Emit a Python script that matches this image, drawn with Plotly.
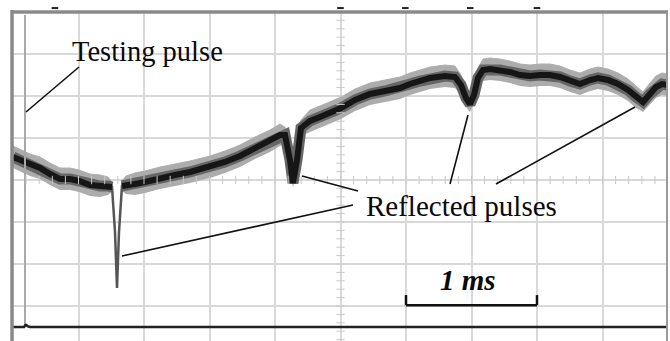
import numpy as np
import plotly.graph_objects as go

# ---- data (screen divisions: x 0..10, y 0..8) ----
px_x = [13, 20, 30, 40, 50, 60, 70, 79, 90, 100, 108, 112, 115, 117, 119, 122, 126, 135, 145,
        160, 175, 190, 210, 225, 240, 255, 270, 280, 285, 290, 293, 297, 301, 310, 320, 330,
        341, 355, 370, 385, 400, 410, 420, 430, 445, 455, 461, 466, 470, 474, 478, 483, 490,
        500, 510, 520, 530, 540, 550, 560, 570, 580, 590, 598, 608, 618, 628, 636, 643, 650,
        656, 662, 668]
px_y = [157, 160, 165, 168, 174, 179, 179, 181, 185, 186, 186, 187, 232, 288, 232, 186, 185, 184, 182,
        178, 175, 172, 167, 162, 156, 148, 141, 135, 135, 160, 183, 160, 128, 121, 117, 113,
        108, 100, 94, 91, 88, 84, 81, 78, 76, 77, 85, 98, 104, 95, 78, 70, 69,
        70, 72, 75, 76, 75, 75, 77, 81, 84, 80, 78, 80, 84, 90, 97, 102, 94,
        87, 84, 85]
px_w = [11, 11, 11, 11, 11, 11, 11, 11, 11, 11, 9, 5, 3, 2, 3, 5, 9, 11, 11,
        11, 11, 11, 11, 11, 11, 11, 11, 11, 8, 6, 5, 6, 8, 11, 11, 11,
        11, 11, 11, 11, 11, 11, 11, 11, 11, 11, 10, 9, 8, 9, 10, 11, 11,
        11, 11, 11, 11, 11, 11, 11, 11, 11, 11, 11, 11, 11, 11, 11, 10, 11,
        11, 11, 11]

PXD_X, PXD_Y, X0, Y0 = 65.5, 42.0, 13.0, 348.0
sig_x = [(v - X0) / PXD_X for v in px_x]
sig_y = [(Y0 - v) / PXD_Y for v in px_y]
sig_w = [v / PXD_Y for v in px_w]
sig_hi = [a + b for a, b in zip(sig_y, sig_w)]
sig_lo = [a - b for a, b in zip(sig_y, sig_w)]
# thick dark core only where the trace is slow (not on the fast first echo)
core_y = [y if w >= 5 else None for y, w in zip(sig_y, px_w)]

# channel 2 (testing pulse channel)
ch2_x = [0.0, 0.17, 0.19, 0.198, 0.205, 0.22, 0.26, 10.0]
ch2_y = [0.50, 0.50, 0.55, 0.56, 0.55, 0.52, 0.50, 0.50]
pulse_x = [0.183, 0.183]
pulse_y = [0.52, 7.93]

fig = go.Figure()

# noise band
fig.add_trace(go.Scatter(x=sig_x, y=sig_lo, mode="lines", line=dict(width=0, color="#a6a6a6"),
                         hoverinfo="skip", showlegend=False))
fig.add_trace(go.Scatter(x=sig_x, y=sig_hi, mode="lines", line=dict(width=1, color="#b0b0b0"),
                         fill="tonexty", fillcolor="#acacac", hoverinfo="skip", showlegend=False))
# thin line through everything (fast spike appears grey)
fig.add_trace(go.Scatter(x=sig_x, y=sig_y, mode="lines", line=dict(width=2.5, color="#555555"),
                         hoverinfo="skip", showlegend=False))
# mid / core
fig.add_trace(go.Scatter(x=sig_x, y=core_y, mode="lines", line=dict(width=11, color="#666666"),
                         connectgaps=False, hoverinfo="skip", showlegend=False))
fig.add_trace(go.Scatter(x=sig_x, y=core_y, mode="lines", line=dict(width=6, color="#161616"),
                         connectgaps=False, hoverinfo="skip", showlegend=False))

# testing pulse vertical line and channel 2
fig.add_trace(go.Scatter(x=pulse_x, y=pulse_y, mode="lines", line=dict(width=2, color="#a8a8a8"),
                         hoverinfo="skip", showlegend=False))
fig.add_trace(go.Scatter(x=ch2_x, y=ch2_y, mode="lines", line=dict(width=2.5, color="#222222"),
                         hoverinfo="skip", showlegend=False))

# center-line minor ticks
tk = np.arange(0, 10.01, 0.2)
fig.add_trace(go.Scatter(x=tk, y=[4] * len(tk), mode="markers",
                         marker=dict(symbol="line-ns", size=6, line=dict(width=1, color="#c8c8c8")),
                         hoverinfo="skip", showlegend=False))
tky = np.arange(0, 8.01, 0.2)
fig.add_trace(go.Scatter(x=[5] * len(tky), y=tky, mode="markers",
                         marker=dict(symbol="line-ew", size=6, line=dict(width=1, color="#c8c8c8")),
                         hoverinfo="skip", showlegend=False))

shapes = []
# leader lines
leaders = [
    ((79, 67), (26, 112)),
    ((353, 205), (122, 256)),
    ((302, 176), (358, 191)),
    ((450, 184), (468, 115)),
    ((496, 184), (635, 107)),
]
for (a, b) in leaders:
    shapes.append(dict(type="line", xref="x", yref="y",
                       x0=(a[0] - X0) / PXD_X, y0=(Y0 - a[1]) / PXD_Y,
                       x1=(b[0] - X0) / PXD_X, y1=(Y0 - b[1]) / PXD_Y,
                       line=dict(color="#111111", width=1.6)))
# 1 ms scale bar
bx0, bx1, by, bt = 6.0, 8.0, 1.02, 1.26
for s in [(bx0, by, bx1, by), (bx0, by, bx0, bt), (bx1, by, bx1, bt)]:
    shapes.append(dict(type="line", xref="x", yref="y", x0=s[0], y0=s[1], x1=s[2], y1=s[3],
                       line=dict(color="#111111", width=2.5)))
# screen borders
shapes.append(dict(type="line", xref="paper", yref="paper", x0=-0.0015, y0=0, x1=-0.0015, y1=1.006,
                   line=dict(color="#8a8a8a", width=3.5)))
shapes.append(dict(type="line", xref="paper", yref="paper", x0=-0.003, y0=1.0, x1=1.0, y1=1.0,
                   line=dict(color="#8a8a8a", width=3.5)))
shapes.append(dict(type="line", xref="paper", yref="paper", x0=0.9985, y0=0, x1=0.9985, y1=1.0,
                   line=dict(color="#9a9a9a", width=2)))
# small marker stubs above top border
for xm in [0.064, 0.5, 0.599, 0.698, 0.8]:
    shapes.append(dict(type="line", xref="paper", yref="paper", x0=xm - 0.005, y0=1.012, x1=xm + 0.005,
                       y1=1.012, line=dict(color="#222222", width=2)))

fig.update_layout(shapes=shapes)

fig.add_annotation(x=2.06, y=7.05, xref="x", yref="y", text="Testing pulse", showarrow=False,
                   font=dict(family="Liberation Serif", size=28.5, color="#0a0a0a"))
fig.add_annotation(x=6.84, y=3.38, xref="x", yref="y", text="Reflected pulses", showarrow=False,
                   font=dict(family="Liberation Serif", size=29, color="#0a0a0a"))
fig.add_annotation(x=6.95, y=1.62, xref="x", yref="y", text="<b><i>1 ms</i></b>", showarrow=False,
                   font=dict(family="Liberation Serif", size=29, color="#0a0a0a"))

fig.update_layout(
    width=670, height=341,
    margin=dict(l=13, r=2, t=12, b=0),
    paper_bgcolor="white", plot_bgcolor="white",
    xaxis=dict(range=[0, 10], dtick=1, tick0=0, showgrid=True, gridcolor="#d9d9d9", gridwidth=2,
               zeroline=False, showticklabels=False, ticks="", showline=False, fixedrange=True),
    yaxis=dict(range=[(Y0 - 341) / PXD_Y, 8], dtick=1, tick0=0, showgrid=True, gridcolor="#d9d9d9",
               gridwidth=2, zeroline=False, showticklabels=False, ticks="", showline=False, fixedrange=True),
)

fig.write_html("out.html")
